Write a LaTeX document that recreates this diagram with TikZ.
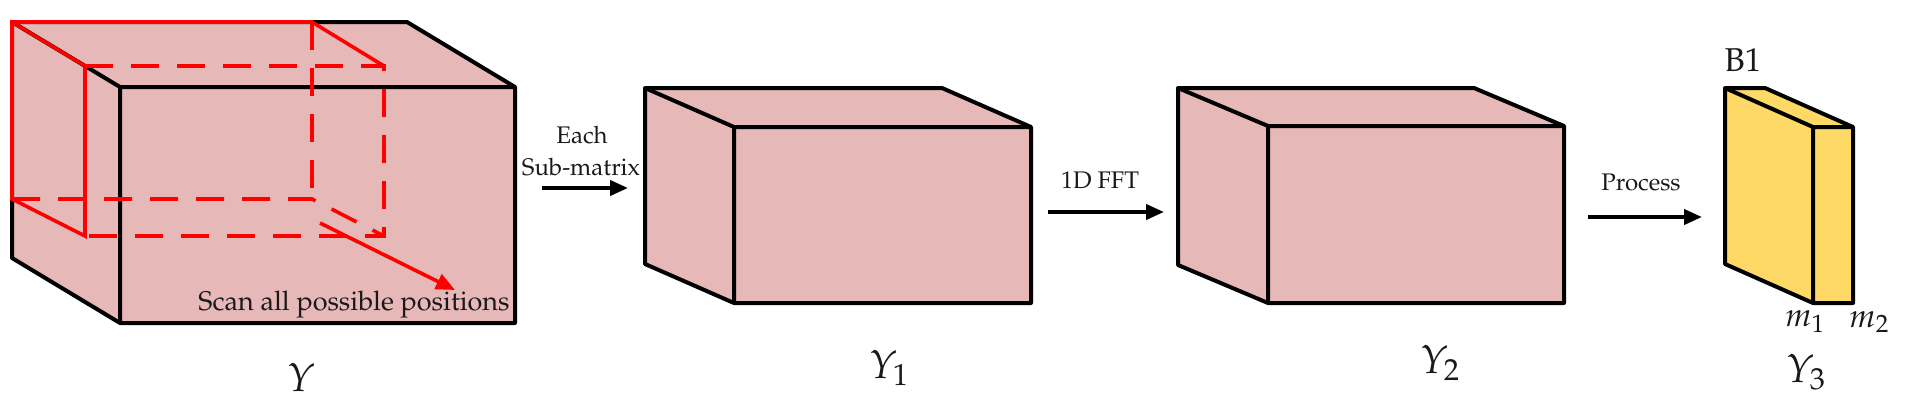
\documentclass[tikz,border=0pt]{standalone}
\usepackage[T1]{fontenc}
\usepackage{mathpazo}
\usetikzlibrary{arrows.meta}
\definecolor{boxpink}{HTML}{E6B8B7}
\definecolor{slabyellow}{HTML}{FFD966}
\definecolor{scanred}{HTML}{FF0000}
% cuboid: fill, front-left x, front-top y, front-right x, front-bottom y, depth dx, depth dy
\newcommand{\mycuboid}[7]{%
  \path[fill=#1] (#2-#6,#3-#7) -- (#4-#6,#3-#7) -- (#4,#3) -- (#4,#5) -- (#2,#5) -- (#2-#6,#5-#7) -- cycle;
  \draw[edge] (#2-#6,#3-#7) -- (#4-#6,#3-#7) -- (#4,#3) -- (#4,#5) -- (#2,#5) -- (#2-#6,#5-#7) -- cycle;
  \draw[edge] (#2-#6,#3-#7) -- (#2,#3) -- (#4,#3) (#2,#3) -- (#2,#5);
}
\begin{document}
\begin{tikzpicture}[x=1pt,y=-1pt,
  edge/.style={draw=black, line width=4pt, line join=round},
  redsolid/.style={draw=scanred, line width=3.6pt, line cap=round},
  reddash/.style={draw=scanred, line width=3.6pt, dash pattern=on 28pt off 18pt},
  flowarrow/.style={draw=black, line width=4pt, -{Triangle[length=18pt,width=15pt]}},
  scanarrow/.style={draw=scanred, line width=3.6pt, -{Triangle[length=19pt,width=16pt]}},
  txt/.style={inner sep=0pt, font=\fontsize{24}{29}\selectfont, text=black!90},
  biglab/.style={inner sep=0pt, font=\fontsize{40}{46}\selectfont, text=black!90},
  mlab/.style={inner sep=0pt, font=\fontsize{33}{38}\selectfont, text=black!90}]
\useasboundingbox (0,0) rectangle (1920,405);

% ---- Y : big cuboid with scanning window
\mycuboid{boxpink}{120}{87}{515}{323}{108}{65}
% scanning window (red)
\draw[reddash] (85,66) -- (384,66) -- (384,236) -- (85,236);
\draw[reddash] (312,22) -- (312,199);
\draw[reddash] (12,199) -- (312,199) -- (384,236);
\draw[redsolid] (384,66) -- (312,22) -- (12,22) -- (12,199) -- (85,236) -- (85,66) -- (12,22);
\coordinate (scanS) at (320,223);
\coordinate (scanE) at (455,290);
\draw[scanarrow] (scanS) -- (scanE);
\node[txt, font=\fontsize{27}{32}\selectfont] (scantxt) at (354,305) {Scan all possible positions};
\node[biglab] (labY) at (302,377) {$Y$};

% ---- Y1
\mycuboid{boxpink}{734}{127}{1031}{303}{89}{39}
\node[biglab] (labY1) at (889,368) {$Y_{\mathrm{1}}$};

% ---- Y2
\mycuboid{boxpink}{1268}{126}{1564}{303}{90}{38}
\node[biglab] (labY2) at (1440,363) {$Y_{\mathrm{2}}$};

% ---- Y3 slab
\mycuboid{slabyellow}{1813}{127}{1853}{303}{88}{39}
\node[txt, font=\fontsize{33}{38}\selectfont] (labB1) at (1743,60) {B1};
\node[mlab] (labm1) at (1805,322) {$m_{\mathrm{1}}$};
\node[mlab] (labm2) at (1869,322) {$m_{\mathrm{2}}$};
\node[biglab] (labY3) at (1806,372) {$Y_{\mathrm{3}}$};

% ---- flow arrows
\coordinate (a1s) at (542,188);
\coordinate (a1e) at (628,188);
\draw[flowarrow] (a1s) -- (a1e);
\node[txt] (each) at (582,135) {Each};
\node[txt] (submat) at (581,167) {Sub-matrix};

\coordinate (a2s) at (1048,212);
\coordinate (a2e) at (1164,212);
\draw[flowarrow] (a2s) -- (a2e);
\node[txt] (fft) at (1100,180) {1D FFT};

\coordinate (a3s) at (1588,217);
\coordinate (a3e) at (1702,217);
\draw[flowarrow] (a3s) -- (a3e);
\node[txt] (proc) at (1641,182) {Process};
\end{tikzpicture}
\end{document}
